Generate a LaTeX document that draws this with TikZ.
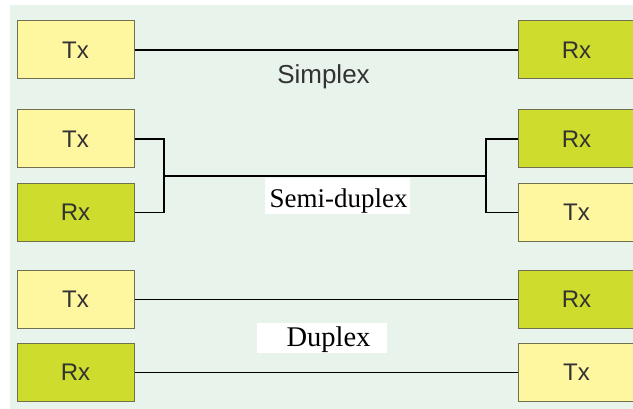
\documentclass[tikz,border=0pt]{standalone}
\usepackage{fontspec}
\setmainfont{Liberation Serif}
\setsansfont{Liberation Sans}
\definecolor{panel}{RGB}{232,243,236}
\definecolor{txfill}{RGB}{255,246,160}
\definecolor{rxfill}{RGB}{205,220,45}
\definecolor{boxline}{RGB}{112,112,80}
\definecolor{labelgray}{RGB}{50,50,50}
\tikzset{
  unit/.style={draw=boxline, line width=1pt, minimum width=117pt, minimum height=58pt,
    inner sep=0pt, font=\sffamily\fontsize{24}{24}\selectfont, text=labelgray},
  txbox/.style={unit, fill=txfill},
  rxbox/.style={unit, fill=rxfill},
  wire/.style={line width=1.6pt, black},
  seriflabel/.style={anchor=base, inner sep=0pt, text=black}
}
\begin{document}
\begin{tikzpicture}[x=1pt,y=-1pt]
  \useasboundingbox (0,0) rectangle (633,409);
  \fill[white] (0,0) rectangle (633,409);
  \fill[panel] (10,5) rectangle (633,409);
  \clip (0,0) rectangle (633,409);

  % Simplex
  \node[txbox] (stx) at (75.5,50) {Tx};
  \node[rxbox] (srx) at (576.5,50) {Rx};
  \draw[wire] (stx.east) -- (srx.west);
  \node[anchor=base, inner sep=0pt, font=\sffamily\fontsize{26}{26}\selectfont, text=labelgray]
    (simplex) at (323.5,84) {Simplex};

  % Semi-duplex
  \node[txbox] (htx) at (75.5,139) {Tx};
  \node[rxbox] (hrx) at (75.5,212.5) {Rx};
  \node[rxbox] (hrxr) at (576.5,139) {Rx};
  \node[txbox] (htxr) at (576.5,212.5) {Tx};
  \coordinate (lj) at (164,176);
  \coordinate (rj) at (486,176);
  \fill[white] (265,178) rectangle (410,214);
  \draw[wire] (htx.east) -| (lj) |- (hrx.east);
  \draw[wire] (lj) -- (rj);
  \draw[wire] (hrxr.west) -| (rj) |- (htxr.west);
  \node[seriflabel, font=\rmfamily\fontsize{27}{27}\selectfont] (semi) at (338.5,208) {Semi-duplex};

  % Duplex
  \node[txbox] (dtx) at (75.5,299.5) {Tx};
  \node[rxbox] (drx) at (75.5,372.5) {Rx};
  \node[rxbox] (drxr) at (576.5,299.5) {Rx};
  \node[txbox] (dtxr) at (576.5,372.5) {Tx};
  \draw[wire] (dtx.east) -- (drxr.west);
  \draw[wire] (drx.east) -- (dtxr.west);
  \fill[white] (257,323) rectangle (387,353);
  \node[seriflabel, font=\rmfamily\fontsize{28.5}{28.5}\selectfont] (duplex) at (328.5,347) {Duplex};
\end{tikzpicture}
\end{document}
